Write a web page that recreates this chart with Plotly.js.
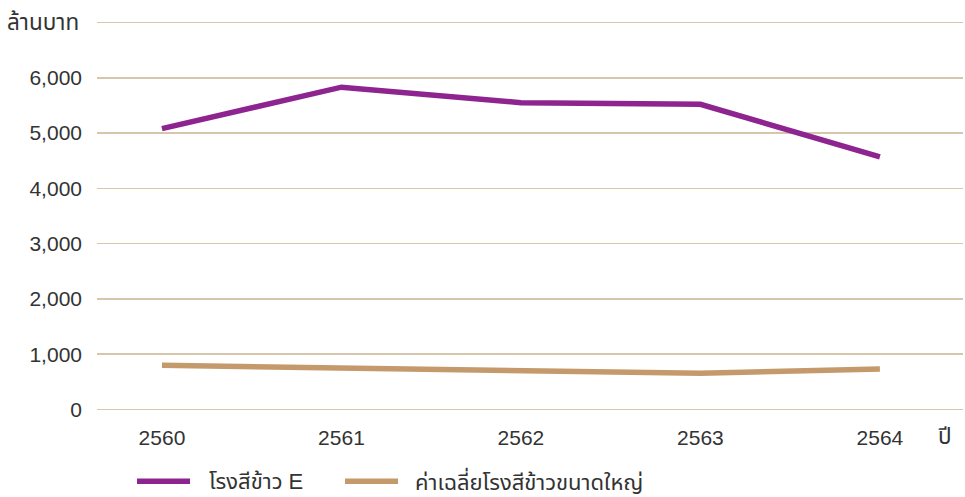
<!DOCTYPE html>
<html>
<head>
<meta charset="utf-8">
<script src="https://cdn.plot.ly/plotly-3.0.1.min.js"></script>
<style>
  html, body { margin: 0; padding: 0; background: #ffffff; }
  #chart { width: 965px; height: 497px; }
</style>
</head>
<body>
<div id="chart"></div>
<script>
// Years (Thai Buddhist era)
const years = [2560, 2561, 2562, 2563, 2564];

// Revenue, million baht
const millE = [5080, 5830, 5550, 5520, 4570];
const largeMillAvg = [800, 757, 702, 655, 733];

const seriesNames = ['โรงสีข้าว E', 'ค่าเฉลี่ยโรงสีข้าวขนาดใหญ่'];
const seriesColors = ['#8E2490', '#C49A6C'];

const yTicks = [0, 1000, 2000, 3000, 4000, 5000, 6000, 7000];
const yTickText = ['0', '1,000', '2,000', '3,000', '4,000', '5,000', '6,000', ''];

const yUnit = 'ล้านบาท';
const xUnit = 'ปี';

const FONT = '"Liberation Sans", Arial, "Noto Sans Thai", "Noto Sans", sans-serif';
const TEXT_COLOR = '#333333';

const traces = [millE, largeMillAvg].map((vals, i) => ({
  type: 'scatter',
  mode: 'lines',
  x: years,
  y: vals,
  name: seriesNames[i],
  line: { color: seriesColors[i], width: 5.5, shape: 'linear' },
  hoverinfo: 'x+y',
  showlegend: false
}));

// Hand-placed legend: swatch line + label for each series
const legendSwatches = [[0.0462, 0.1074], [0.2864, 0.3476]];
const legendTextX = [0.127, 0.3649];
const legendY = -0.1765;

const shapes = legendSwatches.map((sw, i) => ({
  type: 'line', xref: 'paper', yref: 'paper',
  x0: sw[0], x1: sw[1], y0: legendY, y1: legendY,
  line: { color: seriesColors[i], width: 5.5 }
}));

const annotations = [
  {
    text: yUnit, xref: 'paper', yref: 'y', x: -0.0185, y: 7000,
    xanchor: 'right', yanchor: 'middle', showarrow: false,
    font: { family: FONT, size: 22.5, color: TEXT_COLOR }
  },
  {
    text: xUnit, xref: 'paper', yref: 'paper', x: 0.979, y: -0.062,
    xanchor: 'center', yanchor: 'middle', showarrow: false,
    font: { family: FONT, size: 22.5, color: TEXT_COLOR }
  }
].concat(seriesNames.map((name, i) => ({
  text: name, xref: 'paper', yref: 'paper', x: legendTextX[i], y: legendY,
  xanchor: 'left', yanchor: 'middle', showarrow: false,
  font: { family: FONT, size: 22, color: TEXT_COLOR }
})));

const layout = {
  width: 965,
  height: 497,
  margin: { l: 97, r: 2, t: 19.7, b: 85.2 },
  paper_bgcolor: '#ffffff',
  plot_bgcolor: '#ffffff',
  font: { family: FONT, size: 21, color: TEXT_COLOR },
  showlegend: false,
  xaxis: {
    range: [2559.638, 2564.463],
    tickvals: years,
    ticktext: years.map(String),
    showgrid: false,
    zeroline: false,
    showline: false,
    ticks: '',
    ticklabelstandoff: 11,
    tickfont: { family: FONT, size: 21, color: TEXT_COLOR },
    fixedrange: true
  },
  yaxis: {
    // small padding so the 0 and 7,000 grid lines sit inside the plot area
    range: [-45, 7045],
    tickvals: yTicks,
    ticktext: yTickText,
    showgrid: true,
    gridcolor: '#D6C6AC',
    gridwidth: 1.5,
    zeroline: false,
    showline: false,
    ticks: '',
    ticklabelstandoff: 14,
    tickfont: { family: FONT, size: 21, color: TEXT_COLOR },
    fixedrange: true
  },
  shapes: shapes,
  annotations: annotations
};

Plotly.newPlot('chart', traces, layout, { displayModeBar: false, staticPlot: true });
</script>
</body>
</html>
